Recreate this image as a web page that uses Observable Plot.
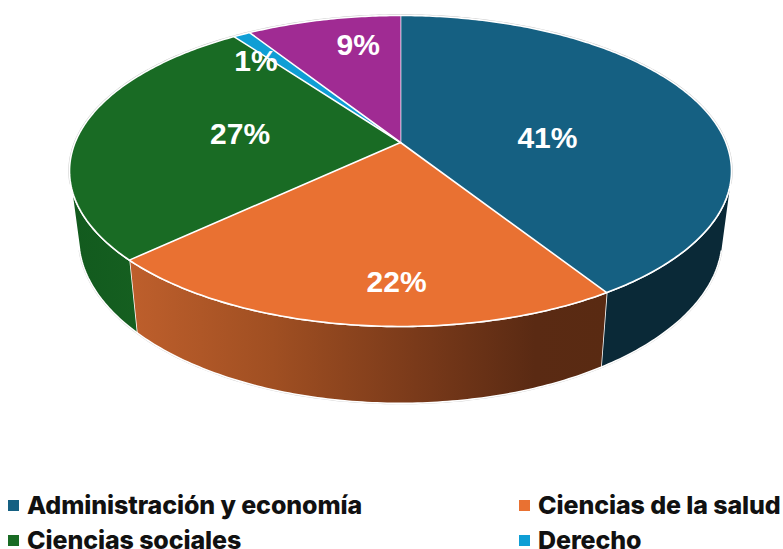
<!DOCTYPE html>
<html lang="es">
<head>
<meta charset="utf-8">
<script src="https://cdn.jsdelivr.net/npm/d3@7"></script>
<script src="https://cdn.jsdelivr.net/npm/@observablehq/plot@0.6"></script>
<style>
html,body{margin:0;padding:0;background:#fff;overflow:hidden;height:549px}
svg{display:block}
#legend{display:grid;grid-template-columns:511px auto;padding-left:8px;font:800 25px Inter,sans-serif;letter-spacing:-0.1px;color:#111;line-height:18px;row-gap:17px;padding-top:9px}
#legend div{white-space:nowrap;display:flex;align-items:center}
#legend i{width:11px;height:11px;margin-right:8px;display:inline-block;flex:none}
</style>
</head>
<body>
<div id="chart"></div>
<div id="legend"></div>
<script>
const categories = ["Administración y economía", "Ciencias de la salud", "Ciencias sociales", "Derecho", "Otros"];
const shares = [41, 22, 27, 1, 9];
const legendNames = ["Administración y economía", "Ciencias de la salud", "Ciencias sociales", "Derecho"];
const topColors = ["#156082", "#E97132", "#196B24", "#0F9ED5", "#A02B93"];
const sideFills = ["#0A2937", "url(#orangeSide)", "url(#greenSide)", null, null];

// Layout of the tilted disc (separate from the data)
const W = 783, H = 487, CX = 400, K = 0.183, HORIZON = 105;
const topDisc = {a: 325.4, b: 150.3, c: 142};
const lowDisc = {a: 316.4, b: 160, c: 207};
const labelFraction = 0.6;
const labelNudge = [[-35, 20], [23.5, 39], [32, 0], [-44, -13], [7, -19]];

const rad = d => d * Math.PI / 180;
function project(disc, deg, r = 1) {
  const u = r * Math.sin(rad(deg)), v = r * Math.cos(rad(deg)), d = 1 + K * v;
  return {x: CX + disc.a * u / d, y: disc.c - disc.b * v / d};
}
const total = d3.sum(shares);
let acc = 0;
const slices = shares.map((s, i) => {
  const start = acc / total * 360; acc += s;
  return {name: categories[i], value: s, start, end: acc / total * 360, top: topColors[i], side: sideFills[i], index: i};
});
function arc(disc, from, to) {
  const n = Math.max(2, Math.ceil(Math.abs(to - from) / 0.75));
  return d3.range(n + 1).map(j => project(disc, from + (to - from) * j / n));
}
function wedge(s) { return [{x: CX, y: topDisc.c}, ...arc(topDisc, s.start, s.end)]; }
function sidePanel(s) {
  const lim = 360 - HORIZON;
  const a = Math.max(s.start, HORIZON), b = Math.min(s.end, lim);
  if (b <= a) return [];
  return [...arc(topDisc, a, b), ...arc(lowDisc, b, a)];
}
const xy = {x: "x", y: "y"};
const edge = {stroke: "white", strokeWidth: 1.6, strokeLinejoin: "round"};
const halo = [...arc(lowDisc, HORIZON, 360 - HORIZON)];
const haloTop = [...arc(topDisc, 360 - HORIZON, 360 + HORIZON)];

const plot = Plot.plot({
  width: W, height: H, margin: 0,
  x: {domain: [0, W], range: [0, W], axis: null},
  y: {domain: [0, H], range: [0, H], axis: null},
  marks: [
    Plot.line(halo, {...xy, stroke: "#c9c9c9", strokeWidth: 2}),
    Plot.line(haloTop, {...xy, stroke: "#c9c9c9", strokeWidth: 2.4}),
    ...slices.filter(s => s.side).map(s => Plot.line(sidePanel(s), {...xy, fill: s.side, ...edge})),
    ...slices.map(s => Plot.line(wedge(s), {...xy, fill: s.top, ...edge})),
    Plot.text(slices, {
      x: s => project(topDisc, (s.start + s.end) / 2, labelFraction).x + labelNudge[s.index][0],
      y: s => project(topDisc, (s.start + s.end) / 2, labelFraction).y + labelNudge[s.index][1],
      text: s => s.value + "%",
      fill: "white", fontSize: 30, fontWeight: 700, fontFamily: "Liberation Sans",
      textAnchor: "middle", lineAnchor: "middle"
    })
  ]
});
const defs = d3.select(plot).insert("defs", ":first-child");
const gradient = (id, stops) => {
  const g = defs.append("linearGradient").attr("id", id).attr("x1", 0).attr("x2", 1).attr("y1", 0).attr("y2", 0);
  stops.forEach(([o, c]) => g.append("stop").attr("offset", o).attr("stop-color", c));
};
gradient("orangeSide", [[0, "#BE5F2C"], [0.3, "#A04F22"], [0.6, "#7A3A1A"], [0.85, "#5A2A13"], [1, "#592A12"]]);
gradient("greenSide", [[0, "#125A1E"], [1, "#155F20"]]);
document.getElementById("chart").append(plot);

const legend = d3.select("#legend");
legendNames.forEach(name => {
  const row = legend.append("div");
  row.append("i").style("background", topColors[categories.indexOf(name)]);
  row.append("span").text(name);
});
</script>
</body>
</html>
